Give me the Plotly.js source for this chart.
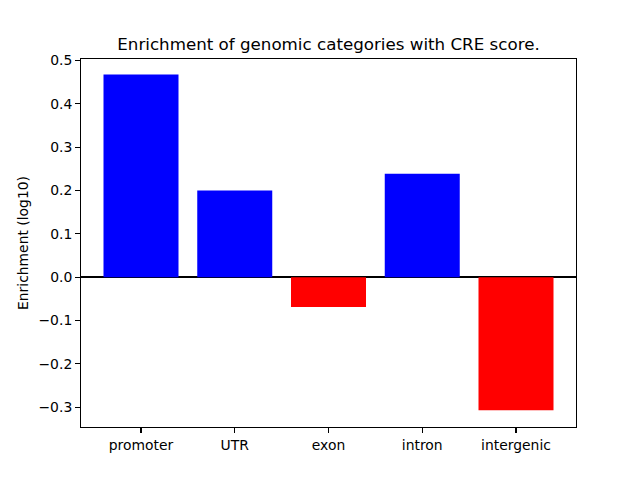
<!DOCTYPE html>
<html>
<head>
<meta charset="utf-8">
<script src="https://cdn.plot.ly/plotly-3.0.1.min.js"></script>
<style>html,body{margin:0;padding:0;background:#fff;}#chart{width:640px;height:480px;}</style>
</head>
<body>
<div id="chart"></div>
<script>
var categories = ["promoter", "UTR", "exon", "intron", "intergenic"];
var enrichment = [0.468, 0.200, -0.069, 0.239, -0.307];
var yTickVals = [-0.3, -0.2, -0.1, 0.0, 0.1, 0.2, 0.3, 0.4, 0.5];

var colors = enrichment.map(function (v) { return v >= 0 ? "#0000ff" : "#ff0000"; });
var font = {family: "DejaVu Sans, sans-serif", color: "#000000", size: 13.9};

var trace = {
  type: "bar",
  x: categories,
  y: enrichment,
  marker: {color: colors, line: {width: 0}},
  hoverinfo: "skip"
};

var layout = {
  width: 640,
  height: 480,
  margin: {l: 80.7, r: 63.7, t: 59.3, b: 53.3, pad: 0},
  paper_bgcolor: "#ffffff",
  plot_bgcolor: "#ffffff",
  showlegend: false,
  bargap: 0.2,
  font: font,
  title: {
    text: "Enrichment of genomic categories with CRE score.",
    font: {family: "DejaVu Sans, sans-serif", size: 16.7, color: "#000000"},
    x: 0.5, xref: "paper", xanchor: "center",
    y: 0.909, yref: "container", yanchor: "middle"
  },
  xaxis: {
    type: "category",
    range: [-0.64, 4.64],
    showgrid: false,
    zeroline: false,
    showline: true, mirror: true, linecolor: "#000000", linewidth: 1.1,
    ticks: "outside", ticklen: 4.9, tickwidth: 1.1, tickcolor: "#000000",
    tickfont: font
  },
  yaxis: {
    range: [-0.3456, 0.5035],
    tickvals: yTickVals,
    tickformat: ".1f",
    showgrid: false,
    zeroline: true, zerolinecolor: "#000000", zerolinewidth: 2,
    showline: true, mirror: true, linecolor: "#000000", linewidth: 1.1,
    ticks: "outside", ticklen: 4.9, tickwidth: 1.1, tickcolor: "#000000",
    tickfont: font,
    title: {text: "Enrichment (log10)", font: font, standoff: 6}
  }
};

Plotly.newPlot("chart", [trace], layout, {staticPlot: true, displayModeBar: false});
</script>
</body>
</html>
